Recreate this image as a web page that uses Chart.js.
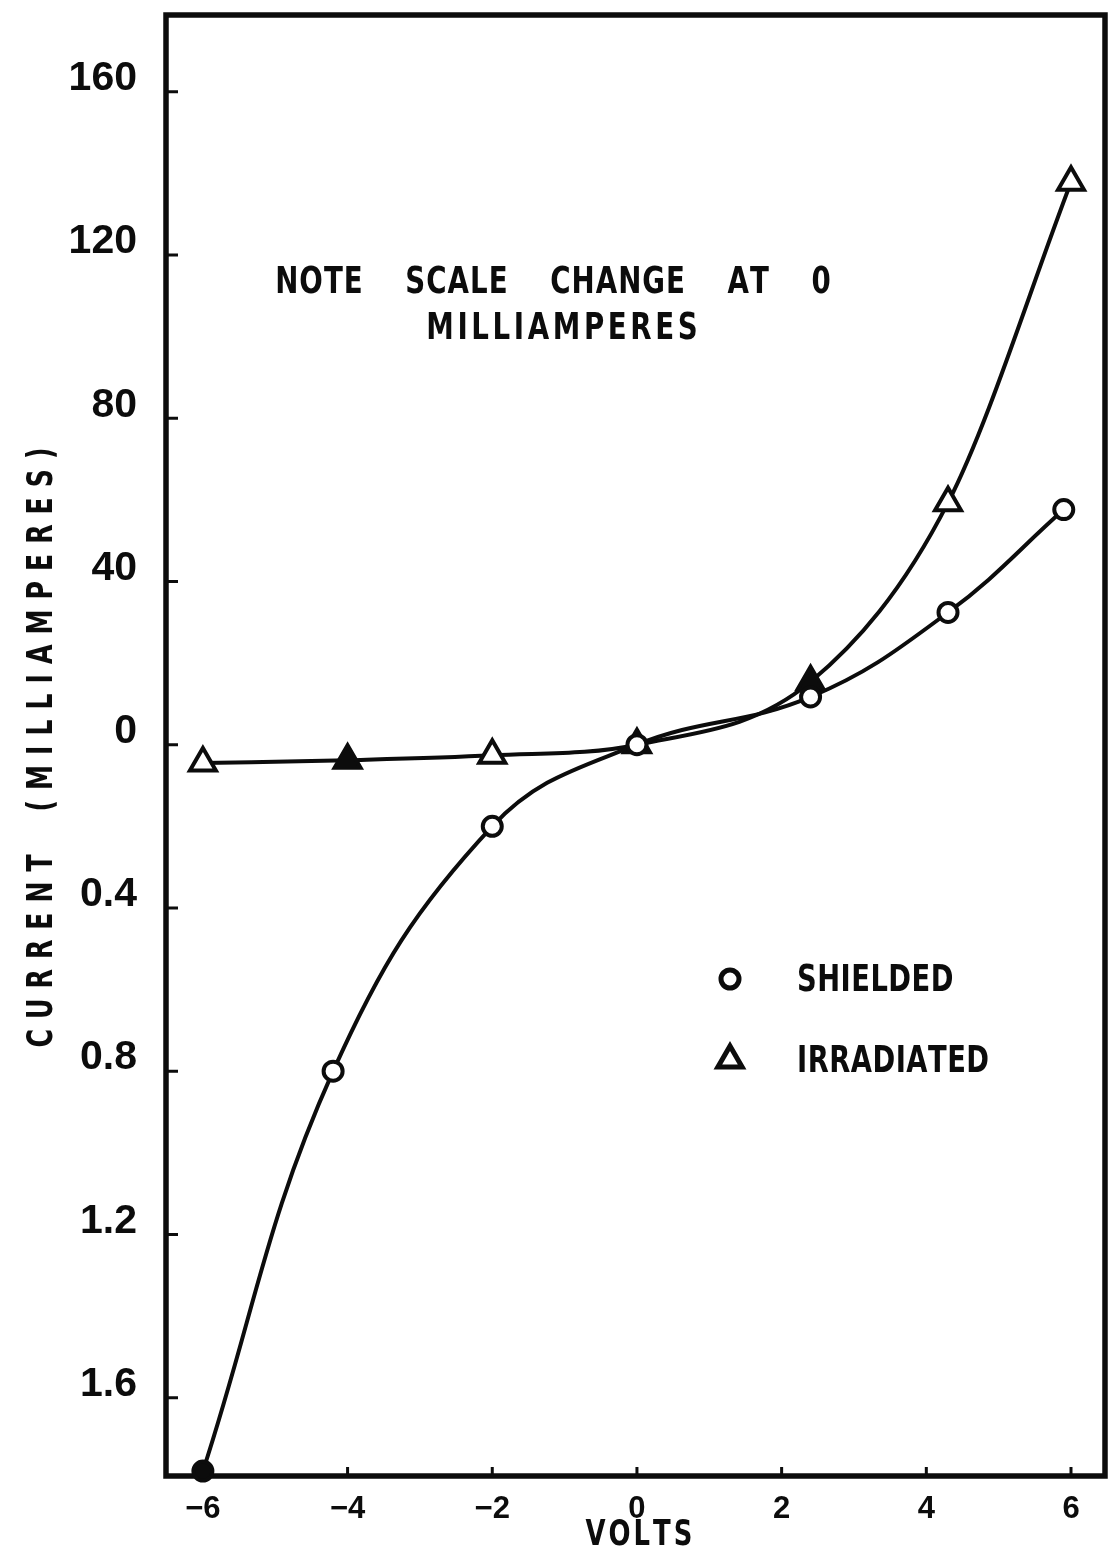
<!DOCTYPE html>
<html>
<head>
<meta charset="utf-8">
<title>Current vs Volts</title>
<script src="https://cdn.jsdelivr.net/npm/chart.js@4.4.0/dist/chart.umd.min.js"></script>
<style>
  html, body { margin: 0; padding: 0; background: #fff; overflow: hidden; }
  canvas { display: block; }
</style>
</head>
<body>
<canvas id="chart" width="1115" height="1553"></canvas>
<script>
// Diode current against applied voltage, shielded and irradiated.
const shieldedVolts      = [-6, -4.2, -2, 0, 2.4, 4.3, 5.9];
const shieldedMilliamps  = [-1.78, -0.80, -0.20, 0, 11.7, 32.4, 57.6];
const irradiatedVolts     = [-6, -4, -2, 0, 2.4, 4.3, 6];
const irradiatedMilliamps = [-0.045, -0.038, -0.026, 0, 15.4, 59.3, 137.8];

const voltTicks    = [-6, -4, -2, 0, 2, 4, 6];
const forwardTicks = [0, 40, 80, 120, 160];   // mA above the zero line
const reverseTicks = [0.4, 0.8, 1.2, 1.6];    // mA below the zero line

const seriesLabels = ['SHIELDED', 'IRRADIATED'];
const noteLines    = ['NOTE SCALE CHANGE AT 0', 'MILLIAMPERES'];
const xTitle       = 'VOLTS';
const yTitle       = 'CURRENT (MILLIAMPERES)';

// The current axis changes scale at zero: one division is 40 mA above, 0.4 mA below.
const FORWARD_STEP = 40;
const REVERSE_STEP = 0.4;
const toDiv = mA => (mA >= 0 ? mA / FORWARD_STEP : mA / REVERSE_STEP);
const divLabel = d => (d >= 0 ? String(Math.round(d * FORWARD_STEP)) : (-d * REVERSE_STEP).toFixed(1));

const currentTicks = [...reverseTicks.map(v => toDiv(-v)).reverse(), ...forwardTicks.map(toDiv)];

const points = (xs, ys) => xs.map((v, i) => ({ x: v, y: toDiv(ys[i]) }));

const INK = '#0c0c0c';
const LETTER_FONT = '"DejaVu Sans Condensed", "DejaVu Sans", sans-serif';
const TICK_FONT = '"Liberation Sans", Arial, sans-serif';

// lettering drawn glyph by glyph, squeezed horizontally by sx, with letter / word spacing
function glyphAdvance(ctx, ch, sx, ls, ws) {
  return ctx.measureText(ch).width * sx + (ch === ' ' ? ws : ls);
}
function drawLettering(ctx, text, x, y, opt) {
  const { sx = 1, ls = 0, ws = 0, align = 'left' } = opt;
  let w = 0;
  for (const ch of text) w += glyphAdvance(ctx, ch, sx, ls, ws);
  w -= ls;
  let cx = align === 'center' ? x - w / 2 : align === 'right' ? x - w : x;
  ctx.textAlign = 'left';
  for (const ch of text) {
    ctx.save();
    ctx.translate(cx, y);
    ctx.scale(sx, 1);
    ctx.fillText(ch, 0, 0);
    ctx.restore();
    cx += glyphAdvance(ctx, ch, sx, ls, ws);
  }
}

const decor = {
  id: 'decor',
  beforeDatasetsDraw(chart) {
    const { ctx, chartArea: a, scales: { x, y } } = chart;
    ctx.save();
    ctx.strokeStyle = INK;
    ctx.lineCap = 'butt';
    ctx.lineWidth = 3;
    ctx.beginPath();
    y.ticks.forEach(t => {
      const py = y.getPixelForValue(t.value);
      ctx.moveTo(a.left, py); ctx.lineTo(a.left + 12, py);
    });
    x.ticks.forEach(t => {
      const px = x.getPixelForValue(t.value);
      ctx.moveTo(px, a.bottom); ctx.lineTo(px, a.bottom - 9);
    });
    ctx.stroke();
    ctx.lineWidth = 5.5;
    ctx.strokeRect(a.left, a.top, a.right - a.left, a.bottom - a.top);
    ctx.restore();
  },
  afterDraw(chart) {
    const { ctx, chartArea: a, scales: { x } } = chart;
    ctx.save();
    ctx.fillStyle = INK;
    ctx.textBaseline = 'alphabetic';

    // scale-change note
    ctx.font = `bold 38px ${LETTER_FONT}`;
    drawLettering(ctx, noteLines[0], 553, 293, { sx: 0.81, ls: 1, ws: 32, align: 'center' });
    drawLettering(ctx, noteLines[1], 562, 339, { sx: 0.81, ls: 3.6, align: 'center' });

    // legend
    const markers = [
      { style: 'circle', r: 9, y: 979 },
      { style: 'triangle', r: 14, y: 1060 }
    ];
    markers.forEach((m, i) => {
      ctx.strokeStyle = INK;
      ctx.fillStyle = '#fff';
      ctx.lineWidth = 5;
      Chart.helpers.drawPoint(ctx, { pointStyle: m.style, radius: m.r, borderWidth: 5, rotation: 0 }, 730, m.y);
      ctx.fillStyle = INK;
      drawLettering(ctx, seriesLabels[i], 797, m.y + 12, { sx: 0.8, ls: 0.5 });
    });

    // axis titles
    ctx.font = `bold 36px ${LETTER_FONT}`;
    drawLettering(ctx, xTitle, x.getPixelForValue(0) + 2, 1545, { sx: 0.8, ls: 3, align: 'center' });

    ctx.font = `bold 35px ${LETTER_FONT}`;
    ctx.translate(52, (a.top + a.bottom) / 2 + 2);
    ctx.rotate(-Math.PI / 2);
    drawLettering(ctx, yTitle, 0, 0, { sx: 0.8, ls: 10, ws: 24, align: 'center' });
    ctx.restore();
  }
};

new Chart(document.getElementById('chart'), {
  type: 'line',
  data: {
    datasets: [
      {
        label: seriesLabels[0],
        data: points(shieldedVolts, shieldedMilliamps),
        borderColor: INK,
        borderWidth: 4,
        tension: 0.4,
        pointStyle: 'circle',
        pointRadius: 9.5,
        pointBorderWidth: 4,
        pointBorderColor: INK,
        pointBackgroundColor: [INK, '#fff', '#fff', '#fff', '#fff', '#fff', '#fff'],
        clip: false
      },
      {
        label: seriesLabels[1],
        data: points(irradiatedVolts, irradiatedMilliamps),
        borderColor: INK,
        borderWidth: 4,
        cubicInterpolationMode: 'monotone',
        pointStyle: 'triangle',
        pointRadius: 15,
        pointBorderWidth: 4,
        pointBorderColor: INK,
        pointBackgroundColor: ['#fff', INK, '#fff', INK, INK, '#fff', '#fff'],
        clip: false
      }
    ]
  },
  options: {
    responsive: false,
    animation: false,
    devicePixelRatio: 1,
    layout: { autoPadding: false, padding: { top: 15, right: 10, left: 0, bottom: 0 } },
    plugins: {
      legend: { display: false },
      tooltip: { enabled: false }
    },
    scales: {
      x: {
        type: 'linear',
        min: -6.51,
        max: 6.47,
        afterBuildTicks: s => { s.ticks = voltTicks.map(v => ({ value: v })); },
        afterFit: s => { s.height = 77; s.paddingLeft = 0; s.paddingRight = 0; },
        grid: { display: false },
        border: { display: false },
        ticks: {
          autoSkip: false,
          maxRotation: 0,
          padding: 7,
          color: INK,
          font: { family: TICK_FONT, size: 31, weight: 'bold' },
          callback: v => (v < 0 ? '\u2212' + Math.abs(v) : String(v))
        }
      },
      y: {
        type: 'linear',
        min: -4.48,
        max: 4.47,
        afterBuildTicks: s => { s.ticks = currentTicks.map(v => ({ value: v })); },
        afterFit: s => { s.width = 166; s.paddingTop = 0; s.paddingBottom = 0; },
        grid: { display: false },
        border: { display: false },
        ticks: {
          autoSkip: false,
          padding: 21,
          labelOffset: -13,
          color: INK,
          font: { family: TICK_FONT, size: 41, weight: 'bold' },
          callback: v => divLabel(v)
        }
      }
    }
  },
  plugins: [decor]
});
</script>
</body>
</html>
